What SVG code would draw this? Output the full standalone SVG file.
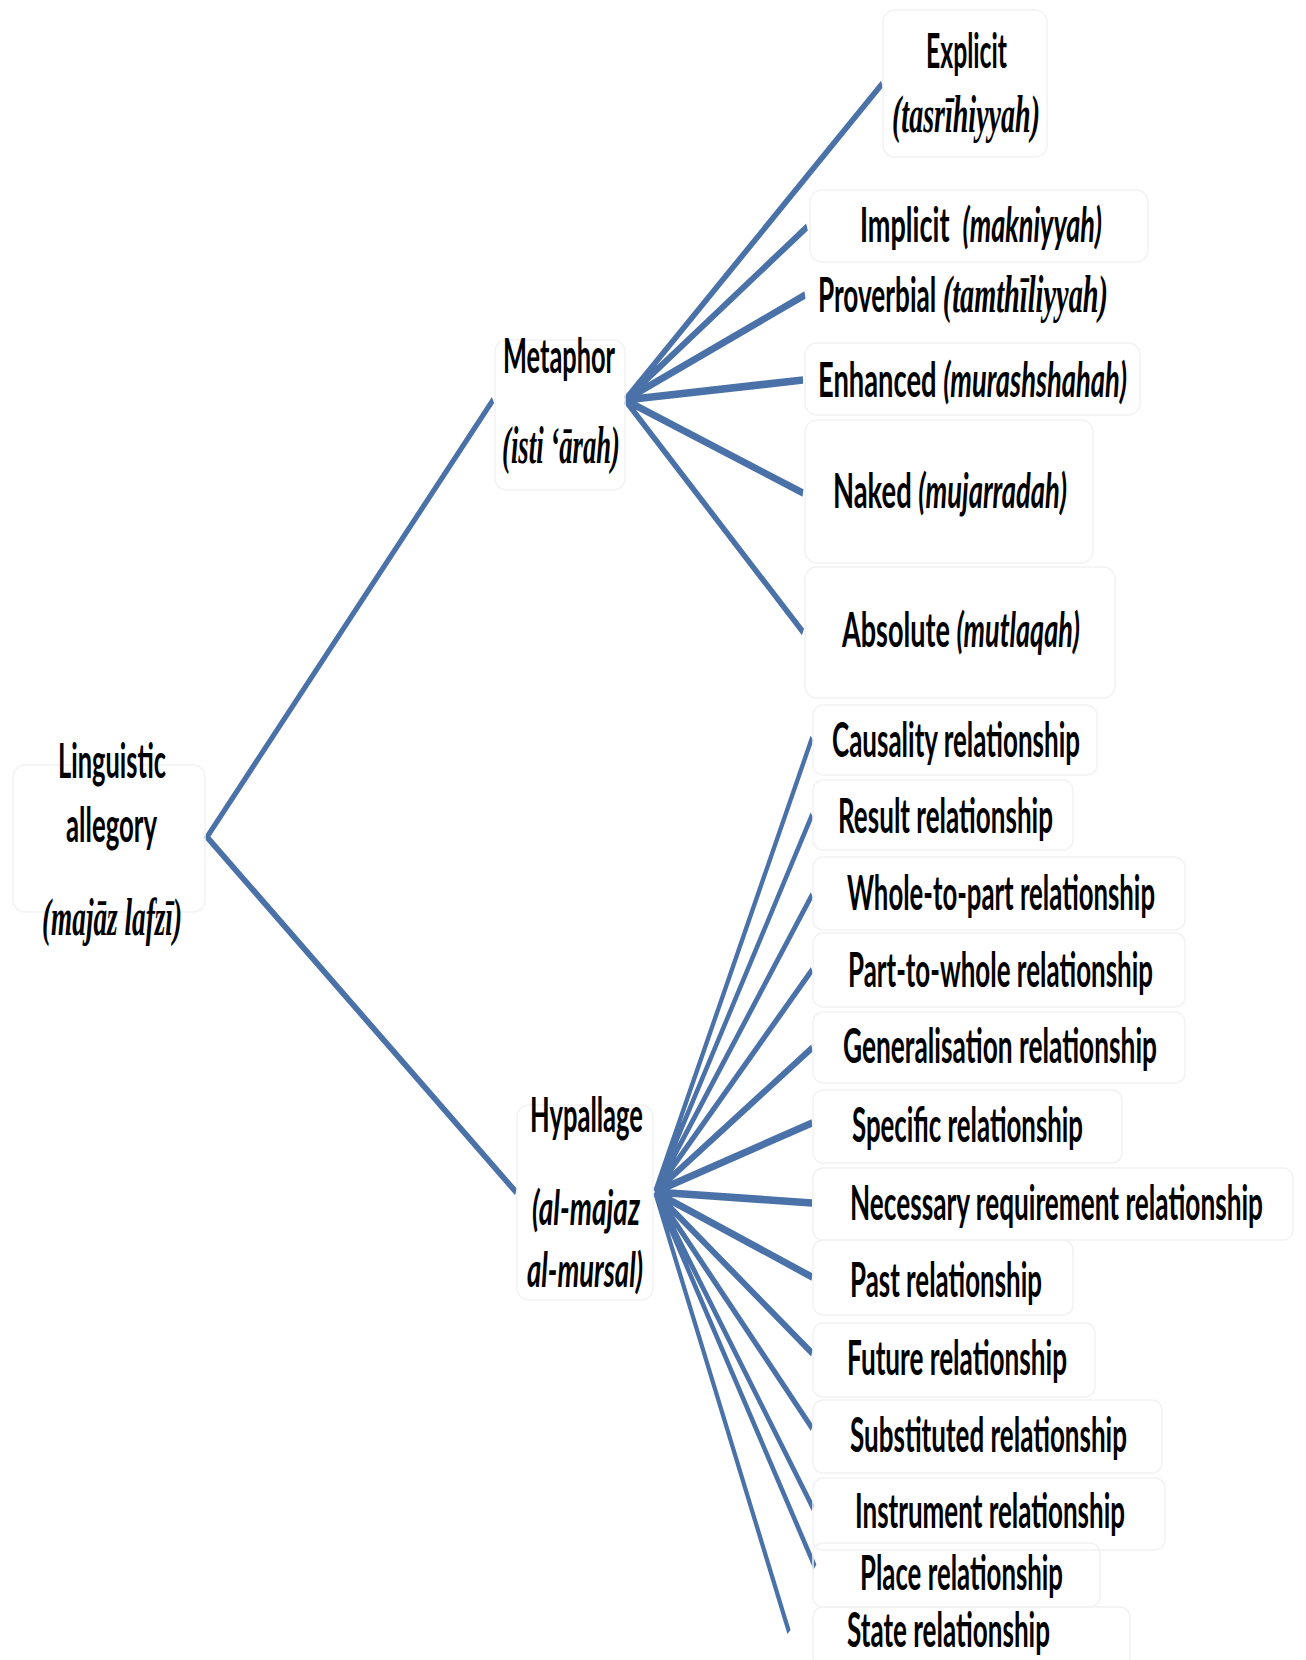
<svg xmlns="http://www.w3.org/2000/svg" width="1306" height="1660" viewBox="0 0 1306 1660">
<style>
.bx{fill:none;stroke:#f2f2f2;stroke-width:1.5}
text{fill:#000;font-weight:bold}
.t{font-family:Lato,"Open Sans","Liberation Sans",sans-serif;font-size:48px}
.i{font-style:italic}
.s{font-family:"Liberation Serif","DejaVu Serif",serif;font-size:52px;font-style:italic}
.cn{fill:none;stroke:#4a72a8;stroke-width:3.8;stroke-linecap:butt;stroke-linejoin:miter}
</style>
<rect width="1306" height="1660" fill="#fff"/>
<g id="connectors" transform="scale(1 2)">
<path class="cn" d="M493,200 L207,418.5 L516,596"/>
<path class="cn" d="M625,200 L882,42 M625,200 L807,113.5 M625,200 L805,147.5 M625,200 L803,190 M625,200 L803,246.5 M625,200 L803,316"/>
<path class="cn" d="M655,596 L812,369 M655,596 L812,407.5 M655,596 L812,447.5 M655,596 L812,485 M655,596 L812,524 M655,596 L812,561.5 M655,596 L812,601.5 M655,596 L812,638.5 M655,596 L812,676.5 M655,596 L812,714 M655,596 L813,754 M655,596 L815,783.5 M655,596 L789,816"/>
</g>
<g id="n-root"><rect class="bx" x="13" y="765" width="192" height="147" rx="12"/>
<text class="t" x="58" y="778" textLength="108" lengthAdjust="spacingAndGlyphs">Linguistic</text>
<text class="t" x="66" y="842" textLength="91" lengthAdjust="spacingAndGlyphs">allegory</text>
<text class="s" x="42" y="935" textLength="140" lengthAdjust="spacingAndGlyphs">(majāz lafzī)</text></g>
<g id="n-metaphor"><rect class="bx" x="495" y="340" width="130" height="150" rx="12"/>
<text class="t" x="503" y="373" textLength="112" lengthAdjust="spacingAndGlyphs">Metaphor</text>
<text class="s" x="502" y="463" textLength="118" lengthAdjust="spacingAndGlyphs">(isti ʻārah)</text></g>
<g id="n-hypallage"><rect class="bx" x="517" y="1105" width="136" height="195" rx="12"/>
<text class="t" x="530" y="1132" textLength="113" lengthAdjust="spacingAndGlyphs">Hypallage</text>
<text class="t i" x="532" y="1225" textLength="108" lengthAdjust="spacingAndGlyphs">(al-majaz</text>
<text class="t i" x="527" y="1287" textLength="116" lengthAdjust="spacingAndGlyphs">al-mursal)</text></g>
<g id="n-explicit"><rect class="bx" x="883" y="10" width="164" height="147" rx="12"/>
<text class="t" x="926" y="68" textLength="81" lengthAdjust="spacingAndGlyphs">Explicit</text>
<text class="s" x="892" y="132" textLength="148" lengthAdjust="spacingAndGlyphs">(tasrīhiyyah)</text></g>
<g id="n-implicit"><rect class="bx" x="810" y="190" width="338" height="72" rx="12"/>
<text class="t" x="860" y="242" textLength="242" lengthAdjust="spacingAndGlyphs">Implicit&#160; <tspan class="i">(makniyyah)</tspan></text></g>
<g id="n-proverbial">
<text class="t" x="818" y="312" textLength="290" lengthAdjust="spacingAndGlyphs">Proverbial <tspan class="s">(tamthīliyyah)</tspan></text></g>
<g id="n-enhanced"><rect class="bx" x="805" y="343" width="335" height="72" rx="12"/>
<text class="t" x="818" y="397" textLength="309" lengthAdjust="spacingAndGlyphs">Enhanced <tspan class="i">(murashshahah)</tspan></text></g>
<g id="n-naked"><rect class="bx" x="805" y="420" width="288" height="143" rx="12"/>
<text class="t" x="833" y="508" textLength="234" lengthAdjust="spacingAndGlyphs">Naked <tspan class="i">(mujarradah)</tspan></text></g>
<g id="n-absolute"><rect class="bx" x="805" y="567" width="310" height="131" rx="12"/>
<text class="t" x="842" y="647" textLength="238" lengthAdjust="spacingAndGlyphs">Absolute <tspan class="i">(mutlaqah)</tspan></text></g>
<g id="n-causality"><rect class="bx" x="813" y="705" width="284" height="70" rx="10"/>
<text class="t" x="832" y="757" textLength="248" lengthAdjust="spacingAndGlyphs">Causality relationship</text></g>
<g id="n-result"><rect class="bx" x="813" y="780" width="260" height="70" rx="10"/>
<text class="t" x="838" y="833" textLength="215" lengthAdjust="spacingAndGlyphs">Result relationship</text></g>
<g id="n-wholetopart"><rect class="bx" x="813" y="857" width="372" height="73" rx="10"/>
<text class="t" x="847" y="910" textLength="308" lengthAdjust="spacingAndGlyphs">Whole-to-part relationship</text></g>
<g id="n-parttowhole"><rect class="bx" x="813" y="933" width="372" height="74" rx="10"/>
<text class="t" x="848" y="987" textLength="305" lengthAdjust="spacingAndGlyphs">Part-to-whole relationship</text></g>
<g id="n-generalisation"><rect class="bx" x="813" y="1012" width="372" height="71" rx="10"/>
<text class="t" x="843" y="1063" textLength="314" lengthAdjust="spacingAndGlyphs">Generalisation relationship</text></g>
<g id="n-specific"><rect class="bx" x="813" y="1090" width="309" height="73" rx="10"/>
<text class="t" x="852" y="1142" textLength="231" lengthAdjust="spacingAndGlyphs">Specific relationship</text></g>
<g id="n-necessary"><rect class="bx" x="813" y="1168" width="480" height="72" rx="10"/>
<text class="t" x="850" y="1220" textLength="413" lengthAdjust="spacingAndGlyphs">Necessary requirement relationship</text></g>
<g id="n-past"><rect class="bx" x="813" y="1240" width="260" height="75" rx="10"/>
<text class="t" x="850" y="1297" textLength="192" lengthAdjust="spacingAndGlyphs">Past relationship</text></g>
<g id="n-future"><rect class="bx" x="813" y="1323" width="282" height="74" rx="10"/>
<text class="t" x="847" y="1375" textLength="220" lengthAdjust="spacingAndGlyphs">Future relationship</text></g>
<g id="n-substituted"><rect class="bx" x="813" y="1400" width="349" height="73" rx="10"/>
<text class="t" x="850" y="1452" textLength="277" lengthAdjust="spacingAndGlyphs">Substituted relationship</text></g>
<g id="n-instrument"><rect class="bx" x="813" y="1478" width="352" height="72" rx="10"/>
<text class="t" x="855" y="1528" textLength="270" lengthAdjust="spacingAndGlyphs">Instrument relationship</text></g>
<g id="n-place"><rect class="bx" x="813" y="1543" width="287" height="64" rx="10"/>
<text class="t" x="860" y="1590" textLength="203" lengthAdjust="spacingAndGlyphs">Place relationship</text></g>
<g id="n-state"><rect class="bx" x="813" y="1607" width="317" height="60" rx="10"/>
<text class="t" x="847" y="1647" textLength="203" lengthAdjust="spacingAndGlyphs">State relationship</text></g>
</svg>
